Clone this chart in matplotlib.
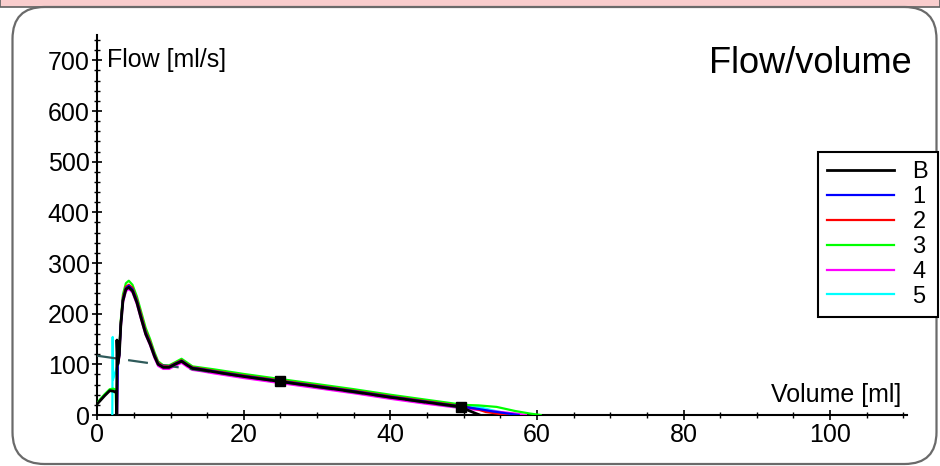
import matplotlib
matplotlib.use("Agg")
from matplotlib import pyplot as plt
from matplotlib.patches import FancyBboxPatch, Rectangle
from matplotlib.transforms import IdentityTransform
from matplotlib.ticker import MultipleLocator

plt.rcParams['font.family'] = ['Liberation Sans', 'DejaVu Sans']

# Baseline curve B
xB = [0, 0.5, 1.0, 1.7, 2.2, 2.5, 2.62, 2.65, 2.68, 2.8, 3.0, 3.2, 3.5, 3.9, 4.3, 4.8, 5.4, 6.0, 6.6,
      7.2, 7.8, 8.3, 9.0, 9.8, 10.6, 11.5, 12.3, 13.0, 14, 16, 20, 25, 30, 35, 40, 45, 49.7, 50.5, 51.5, 52.2]
yB = [22, 30, 38, 48, 47, 45, 44, 0, 148, 100, 118, 175, 225, 248, 252, 245, 222, 190, 160,
      140, 116, 100, 94, 94, 100, 106, 98, 92, 90, 85, 76, 66, 56, 46, 35, 25, 16, 10, 4, 0]

# trials 1..5
x1 = [2.7, 2.8, 3.0, 3.2, 3.5, 3.9, 4.3, 4.8, 5.4, 6.0, 6.6, 7.2, 7.8, 8.3, 9.0, 9.8, 10.6, 11.5,
      12.3, 13.0, 14, 16, 20, 25, 30, 35, 40, 45, 50, 52, 54, 56, 57.5]
y1 = [0, 98, 120, 178, 228, 250, 255, 248, 225, 193, 163, 142, 118, 101, 95, 95, 101, 107,
      99, 93, 91, 86, 77, 67, 57, 47, 36, 26, 16, 12, 7, 3, 0]

x2 = [2.7, 2.8, 3.0, 3.2, 3.5, 3.9, 4.3, 4.8, 5.4, 6.0, 6.6, 7.2, 7.8, 8.3, 9.0, 9.8, 10.6, 11.5,
      12.3, 13.0, 14, 16, 20, 25, 30, 35, 40, 45, 50, 52, 53, 54.5, 56]
y2 = [0, 100, 122, 182, 232, 253, 257, 251, 228, 197, 166, 145, 120, 103, 96, 96, 102, 108,
      100, 94, 92, 87, 78, 68, 58, 48, 37, 27, 17, 11, 6, 3, 0]

x3 = [0, 0.5, 1.0, 1.7, 2.2, 2.5, 2.6, 2.75, 3.0, 3.2, 3.5, 3.9, 4.3, 4.8, 5.4, 6.0, 6.6, 7.2, 7.8,
      8.3, 9.0, 9.8, 10.6, 11.5, 12.3, 13.0, 14, 16, 20, 25, 30, 35, 40, 45, 50, 52, 54.5, 57, 59, 60.5]
y3 = [24, 33, 41, 51, 52, 50, 0, 102, 125, 186, 238, 260, 265, 257, 234, 203, 172, 150, 124,
      106, 98, 98, 104, 111, 103, 96, 94, 90, 81, 71, 61, 51, 40, 30, 20, 19, 16, 8, 3, 0]

x4 = [2.6, 2.75, 3.0, 3.2, 3.5, 3.9, 4.3, 4.8, 5.4, 6.0, 6.6, 7.2, 7.8, 8.3, 9.0, 9.8, 10.6, 11.5,
      12.3, 13.0, 14, 16, 20, 25, 30, 35, 40, 45, 50, 52, 55, 57, 58.5]
y4 = [0, 95, 115, 172, 222, 244, 249, 242, 219, 188, 158, 138, 113, 97, 91, 91, 97, 103,
      95, 89, 87, 82, 73, 63, 53, 43, 32, 22, 13, 10, 6, 3, 0]

x5 = [2.05, 2.1, 2.15, 2.8, 3.0, 3.2, 3.5, 3.9, 4.3, 4.8, 5.4, 6.0, 6.6, 7.2, 7.8, 8.3, 9.0, 9.8,
      10.6, 11.5, 12.3, 13.0, 14, 16, 20, 25, 30, 35, 40, 45, 50, 52, 54.3, 56, 57]
y5 = [0, 154, 70, 100, 121, 180, 230, 251, 256, 249, 226, 195, 165, 143, 119, 102, 96, 96,
      102, 108, 100, 94, 92, 87, 78, 68, 58, 48, 37, 27, 18, 16, 8, 3, 0]

labels = ['B', '1', '2', '3', '4', '5']
colors = ['#000000', '#0000ff', '#ff0000', '#00ff00', '#ff00ff', '#00ffff']

# regression line through the two marked points
line_x = [0, 50]
line_y = [117, 14]
mark_x = [24.9, 49.7]
mark_y = [67, 16]

xticks = [0, 20, 40, 60, 80, 100]
yticks = [0, 100, 200, 300, 400, 500, 600, 700]

fig = plt.figure(figsize=(9.4, 4.66), dpi=100)
fig.patch.set_facecolor('white')

# pink band on top and rounded frame
fig.patches.append(Rectangle((0, 459), 940, 10, transform=IdentityTransform(),
                             facecolor='#f9cdcd', edgecolor='#606060', lw=1.2, zorder=-2))
fig.patches.append(FancyBboxPatch((12.5, 2), 924, 457, boxstyle="round,pad=0,rounding_size=32",
                                  transform=IdentityTransform(), facecolor='white',
                                  edgecolor='#6a6a6a', lw=1.6, zorder=-1))

ax = fig.add_axes([0.1035, 0.1094, 0.8614, 0.8155])
ax.patch.set_alpha(0)

series = [(x1, y1), (x2, y2), (x3, y3), (x4, y4), (x5, y5)]
handles = []
hB, = ax.plot(xB, yB, color=colors[0], lw=2, zorder=6, label=labels[0])
handles.append(hB)
for i, (xs, ys) in enumerate(series):
    h, = ax.plot(xs, ys, color=colors[i + 1], lw=1.6, zorder=5 - i * 0.5, label=labels[i + 1])
    handles.append(h)
ax.plot(line_x, line_y, color='#2e5a5a', lw=1.6, dashes=(9, 5), zorder=4)
ax.plot(mark_x, mark_y, 's', color='black', ms=7, zorder=7)

ax.set_xlim(0, 110.5)
ax.set_ylim(0, 750)
ax.set_xticks(xticks)
ax.set_yticks(yticks)
ax.xaxis.set_minor_locator(MultipleLocator(5))
ax.yaxis.set_minor_locator(MultipleLocator(20))
ax.tick_params(which='major', direction='inout', length=7, width=1.2, labelsize=18, pad=2)
ax.tick_params(which='minor', direction='inout', length=4, width=1.0)
for s in ['top', 'right']:
    ax.spines[s].set_visible(False)
for s in ['left', 'bottom']:
    ax.spines[s].set_linewidth(1.5)

fig.text(107 / 940, 1 - 66.5 / 466, 'Flow [ml/s]', fontsize=18, va='baseline', ha='left')
fig.text(901 / 940, 1 - 402 / 466, 'Volume [ml]', fontsize=18, va='baseline', ha='right')
fig.text(912 / 940, 1 - 73.3 / 466, 'Flow/volume', fontsize=26, va='baseline', ha='right')

leg = fig.legend(handles=handles, labels=labels, loc='upper left',
                 bbox_to_anchor=(818 / 940, 1 - 152 / 466), bbox_transform=fig.transFigure,
                 borderaxespad=0, fontsize=17, handlelength=2.8, labelspacing=0.12,
                 fancybox=False, framealpha=1, edgecolor='black', borderpad=0.4,
                 handletextpad=0.8)
leg.get_frame().set_linewidth(1.5)

fig.savefig('out.png', dpi=100)
